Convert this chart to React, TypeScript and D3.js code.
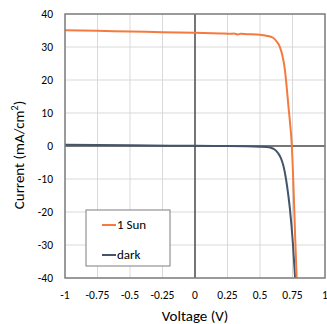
import React, { useEffect, useRef } from 'react';
import * as d3 from 'd3';

// 1 Sun illuminated J-V curve
const sunVoltage = [-1, -0.75, -0.5, -0.25, 0, 0.2, 0.27, 0.3, 0.33, 0.35, 0.4, 0.5, 0.55, 0.6, 0.63, 0.65, 0.67, 0.69, 0.705, 0.72, 0.73, 0.745, 0.76, 0.77, 0.782];
const sunCurrent = [35.1, 34.9, 34.7, 34.5, 34.3, 34.1, 34.0, 34.1, 33.8, 34.0, 33.9, 33.7, 33.4, 32.8, 31.6, 30.3, 27.8, 23.5, 18, 11.5, 7.5, 0, -15, -27, -40];

// dark J-V curve
const darkVoltage = [-1, -0.5, 0, 0.25, 0.5, 0.55, 0.58, 0.61, 0.64, 0.66, 0.68, 0.7, 0.718, 0.73, 0.742, 0.754, 0.77];
const darkCurrent = [0.35, 0.2, 0.05, 0, -0.2, -0.3, -0.5, -1, -2.2, -3.6, -6, -10, -15, -19, -24, -30, -40];

const xTicks = [-1, -0.75, -0.5, -0.25, 0, 0.25, 0.5, 0.75, 1];
const yTicks = [-40, -30, -20, -10, 0, 10, 20, 30, 40];

const seriesNames = ['1 Sun', 'dark'];
const seriesColors = ['#F47A3E', '#44546A'];

const App = () => {
  const svgRef = useRef<SVGSVGElement>(null);

  useEffect(() => {
    const width = 327;
    const height = 324;
    const margin = { top: 14, right: 2, bottom: 46, left: 65 };
    const font = "Carlito, 'Open Sans', 'Liberation Sans', sans-serif";

    const svg = d3.select(svgRef.current).attr('width', width).attr('height', height);
    svg.selectAll('*').remove();

    const x = d3.scaleLinear().domain([-1, 1]).range([margin.left, width - margin.right]);
    const y = d3.scaleLinear().domain([-40, 40]).range([height - margin.bottom, margin.top]);

    // gridlines
    svg.append('g')
      .selectAll('line')
      .data(xTicks)
      .join('line')
      .attr('x1', (d) => x(d)).attr('x2', (d) => x(d))
      .attr('y1', y(40)).attr('y2', y(-40))
      .attr('stroke', '#d9d9d9').attr('stroke-width', 1);
    svg.append('g')
      .selectAll('line')
      .data(yTicks)
      .join('line')
      .attr('x1', x(-1)).attr('x2', x(1))
      .attr('y1', (d) => y(d)).attr('y2', (d) => y(d))
      .attr('stroke', '#d9d9d9').attr('stroke-width', 1);

    // zero lines
    svg.append('line').attr('x1', x(0)).attr('x2', x(0)).attr('y1', y(40)).attr('y2', y(-40))
      .attr('stroke', '#000').attr('stroke-width', 1);
    svg.append('line').attr('x1', x(-1)).attr('x2', x(1)).attr('y1', y(0)).attr('y2', y(0))
      .attr('stroke', '#000').attr('stroke-width', 1);

    // curves
    const line = d3.line<[number, number]>()
      .x((d) => x(d[0]))
      .y((d) => y(d[1]))
      .curve(d3.curveMonotoneX);

    const sunData = sunVoltage.map((v, i) => [v, sunCurrent[i]] as [number, number]);
    const darkData = darkVoltage.map((v, i) => [v, darkCurrent[i]] as [number, number]);

    svg.append('path').datum(darkData).attr('d', line)
      .attr('fill', 'none').attr('stroke', seriesColors[1]).attr('stroke-width', 2);
    svg.append('path').datum(sunData).attr('d', line)
      .attr('fill', 'none').attr('stroke', seriesColors[0]).attr('stroke-width', 2);

    // plot border
    svg.append('rect')
      .attr('x', x(-1)).attr('y', y(40))
      .attr('width', x(1) - x(-1)).attr('height', y(-40) - y(40))
      .attr('fill', 'none').attr('stroke', '#7f7f7f').attr('stroke-width', 1.5);

    // tick labels
    svg.append('g')
      .selectAll('text')
      .data(yTicks)
      .join('text')
      .attr('x', 53).attr('y', (d) => y(d) + 4)
      .attr('text-anchor', 'end')
      .attr('font-family', font).attr('font-size', 11.5).attr('fill', '#000')
      .text((d) => d);
    svg.append('g')
      .selectAll('text')
      .data(xTicks)
      .join('text')
      .attr('x', (d) => x(d)).attr('y', 299)
      .attr('text-anchor', 'middle')
      .attr('font-family', font).attr('font-size', 11.5).attr('fill', '#000')
      .text((d) => d);

    // axis titles
    svg.append('text')
      .attr('x', x(0)).attr('y', 321)
      .attr('text-anchor', 'middle')
      .attr('font-family', font).attr('font-size', 15).attr('fill', '#000')
      .text('Voltage (V)');
    const yt = svg.append('text')
      .attr('transform', 'translate(24, 155) rotate(-90)')
      .attr('text-anchor', 'middle')
      .attr('font-family', font).attr('font-size', 15).attr('fill', '#000');
    yt.append('tspan').text('Current (mA/cm');
    yt.append('tspan').attr('font-size', 10).attr('dy', -6).text('2');
    yt.append('tspan').attr('dy', 6).text(')');

    // legend
    const lg = svg.append('g');
    lg.append('rect')
      .attr('x', 86).attr('y', 210).attr('width', 84).attr('height', 56)
      .attr('fill', '#fff').attr('stroke', '#7f7f7f').attr('stroke-width', 1);
    seriesNames.forEach((name, i) => {
      const ly = 225 + i * 30;
      lg.append('line')
        .attr('x1', 102).attr('x2', 116).attr('y1', ly).attr('y2', ly)
        .attr('stroke', seriesColors[i]).attr('stroke-width', 2);
      lg.append('text')
        .attr('x', 117).attr('y', ly + 4)
        .attr('font-family', font).attr('font-size', 13).attr('fill', '#000')
        .text(name);
    });
  }, []);

  return (
    <div style={{ position: 'absolute', left: 0, top: 0 }}>
      <svg ref={svgRef} style={{ display: 'block' }}></svg>
    </div>
  );
};

export default App;
